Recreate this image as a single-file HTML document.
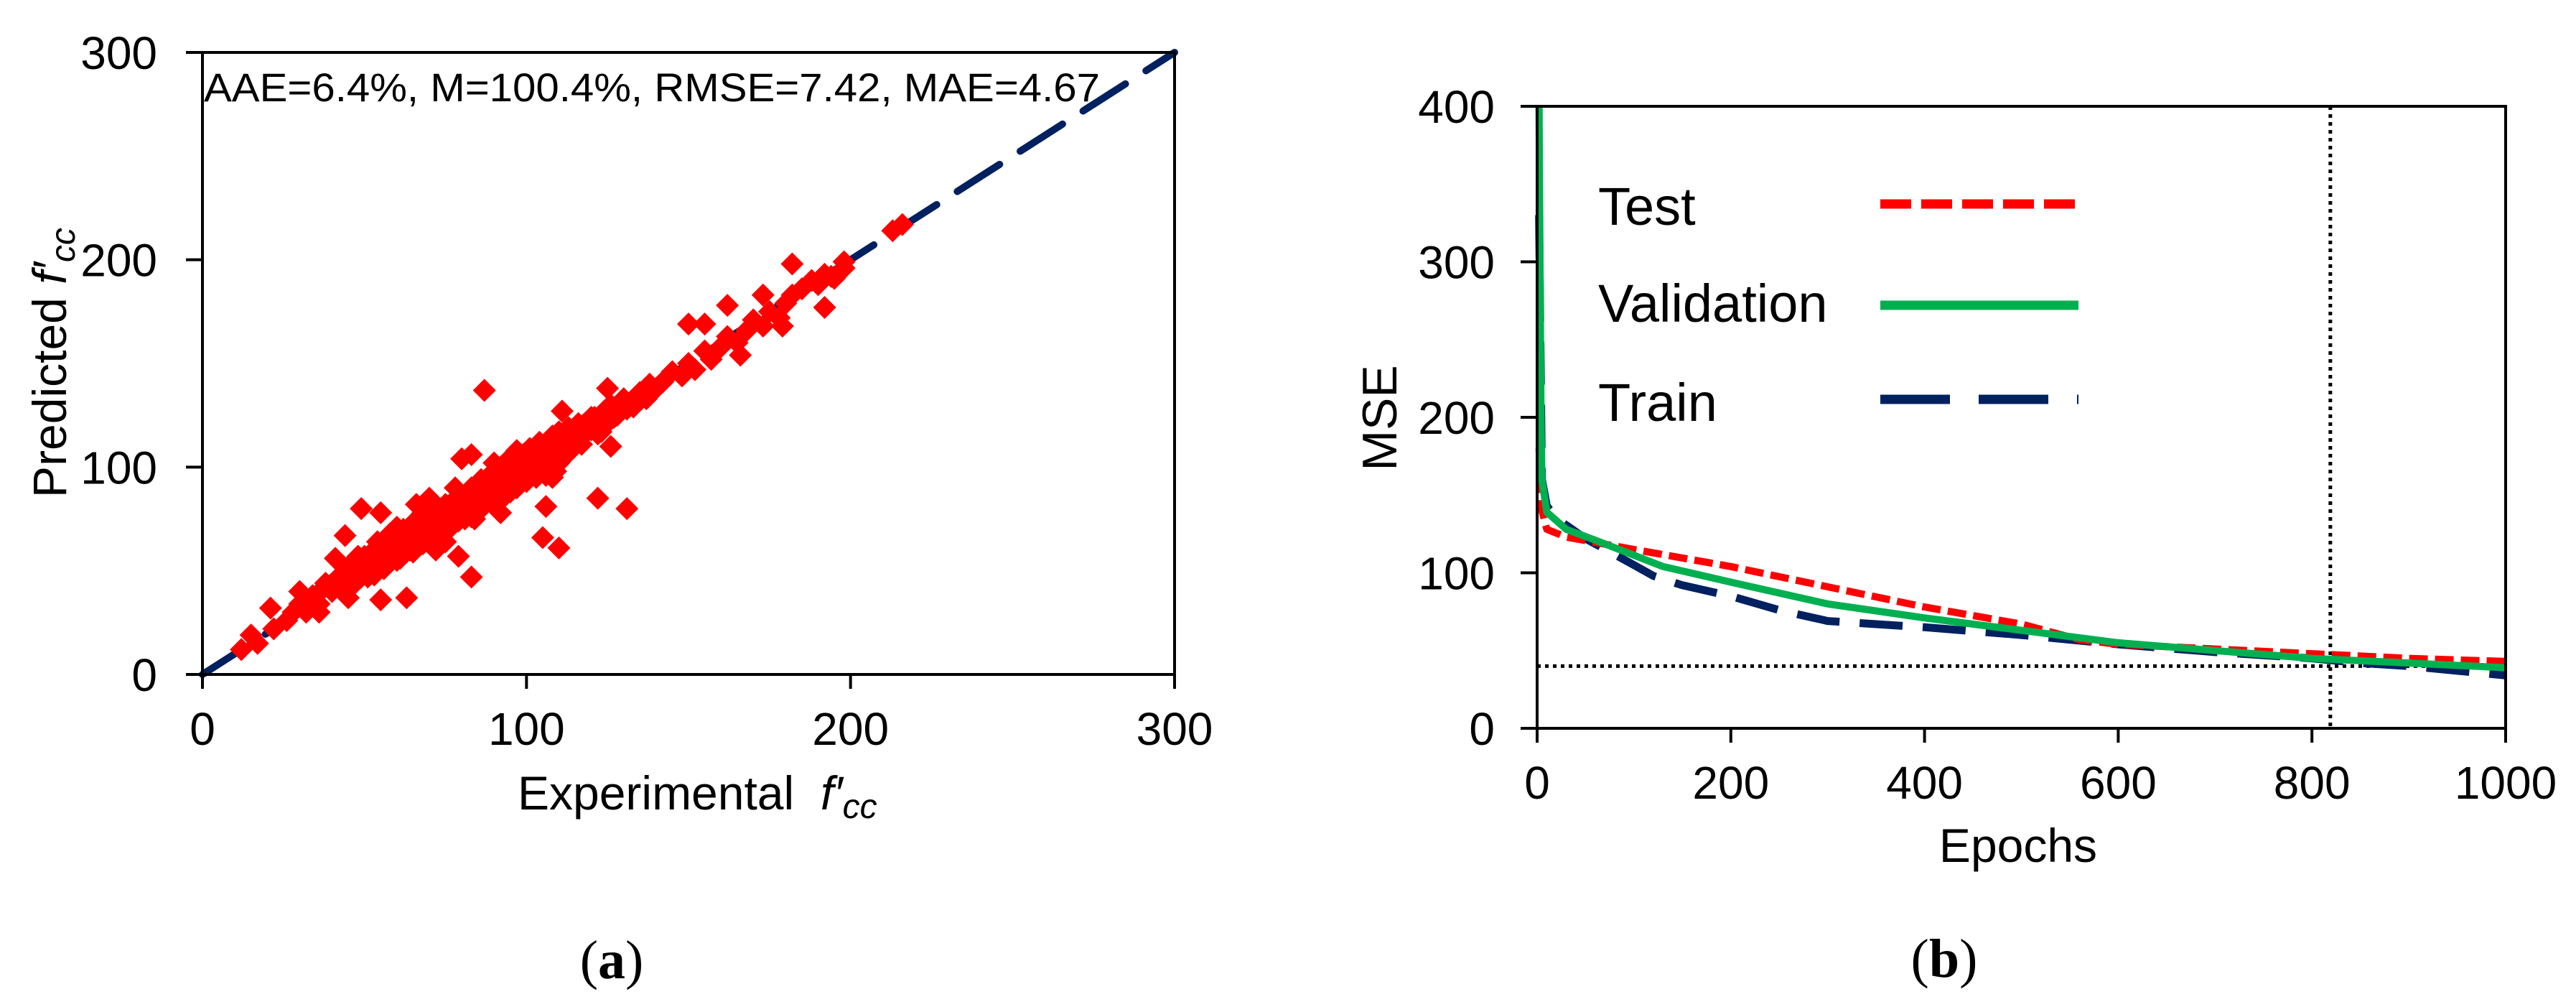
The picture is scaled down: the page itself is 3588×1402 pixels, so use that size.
<!DOCTYPE html>
<html><head><meta charset="utf-8"><style>
html,body{margin:0;padding:0;background:#fff;}
svg{display:block;font-family:"Liberation Sans",Arial,sans-serif;}
</style></head><body>
<svg id="c" width="3588" height="1402" viewBox="0 0 3588 1402" xmlns="http://www.w3.org/2000/svg"></svg>
<script>
// ---- Panel (a) data ----
const scatterExp = [12,15,17,21,22,26,28,30,32,34,36,37,38,40,41,42,44,45,46,47,48,49,50,51,52,53,54,55,55,56,57,58,59,60,61,62,63,63,64,65,66,67,68,69,70,71,72,73,74,75,76,77,78,79,80,81,82,83,83,84,85,86,87,87,88,89,90,91,92,92,93,94,95,96,97,98,99,100,101,102,103,104,105,106,106,107,108,109,110,110,111,112,113,115,117,118,120,121,122,124,125,126,128,130,131,133,135,137,138,140,142,145,148,150,152,155,157,160,162,165,168,170,173,175,178,180,182,185,188,190,192,195,198,49,55,55,63,83,79,105,110,131,122,106,126,125,162,173,182,198,166,179,150,155,92,44,41,30,36,45,80,83,111,120,138,194,87,192,213,216,58,68,75,88,95,100,102,97,84,72,66,48,53,60,90,108,116,86,78,70,
 43,47,50,52,54,57,59,61,62,64,65,67,69,70,72,74,75,77,79,80,82,84,85,86,88,89,90,91,93,94,95,96,98,99,100,101,103,104,105,107,108,109,111,112,114,116,119,123,127,129,132,
 45,48,51,53,56,58,60,62,65,66,68,71,73,76,78,81,83,85,87,89,91,93,95,97,99,100,102,104,106,108,110,113,118,122,126];
const scatterPred = [12,19,15,32,22,26,30,34,30,38,34,41,44,40,45,47,43,49,46,52,50,47,55,53,57,52,60,58,54,62,57,64,60,66,58,63,69,61,65,70,64,72,68,74,70,66,77,73,79,75,71,82,78,74,85,80,86,76,90,83,88,94,85,91,87,95,89,98,84,93,100,96,91,103,97,94,101,105,99,108,95,104,110,100,106,113,103,98,117,108,112,107,119,115,111,121,118,124,116,127,122,130,125,133,128,129,136,133,140,138,141,146,144,150,147,156,152,158,163,160,166,171,168,175,172,179,183,186,190,188,193,191,196,80,78,36,37,47,57,66,61,80,85,81,110,138,178,183,198,199,154,168,169,169,78,67,56,40,30,37,104,106,127,124,138,192,137,177,214,217,68,78,64,92,88,93,97,108,75,60,82,57,48,71,102,95,121,80,90,85,
 48,44,57,49,64,53,67,56,70,60,73,63,76,66,79,69,82,72,86,76,88,79,92,80,95,84,97,87,90,103,92,99,94,106,96,109,98,112,102,105,115,101,114,106,110,113,121,117,124,127,131,
 52,55,47,60,51,64,55,68,59,72,63,67,77,70,82,75,89,80,93,83,97,86,100,90,104,94,98,108,96,111,102,107,116,120,123];
const aTicks = [0,100,200,300];
const aLabels = ["0","100","200","300"];
// ---- Panel (b) data ----
const valEpoch = [2,3,4,5,10,30,60,130,200,300,400,500,600,700,800,900,1000];
const valMSE   = [400,300,200,160,139,128,121,104,94,80,71,63,55,50,45,42,39];
const testEpoch = [2,5,10,30,100,200,300,400,500,560,600,700,800,900,1000];
const testMSE   = [180,140,128,123,115,104,91,78,67,57,54,51,48,45,43];
const trainEpoch = [2,5,10,20,50,100,120,150,200,250,300,400,500,600,700,800,850,900,950,1000];
const trainMSE   = [330,160,143,135,122,105,98,92,85,76,69,65,60,54,49,45,42,40,37,34];
const bestMSE = [40];
const bestEpoch = [819];
const bXTicks = [0,200,400,600,800,1000];
const bYTicks = [0,100,200,300,400];

const NS="http://www.w3.org/2000/svg";
const svg=document.getElementById('c');
function mk(tag,attrs,parent){const e=document.createElementNS(NS,tag);for(const k in attrs)e.setAttribute(k,attrs[k]);(parent||svg).appendChild(e);return e;}
function txt(s,attrs,parent){const e=mk('text',attrs,parent);e.textContent=s;return e;}

// ===== Panel (a) =====
const ax0=282,ax1=1636,ay0=939,ay1=73;
const sxA=v=>ax0+(v/300)*(ax1-ax0);
const syA=v=>ay0-(v/300)*(ay0-ay1);
const gA=mk('g',{});


const diag=mk('line',{x1:sxA(0),y1:syA(0),x2:sxA(300),y2:syA(300),stroke:'#002060','stroke-width':10,'stroke-dasharray':'70 34','stroke-linecap':'round'},gA);


const gPts=mk('g',{fill:'#ff0000'},gA);


for(let i=0;i<scatterExp.length;i++){
  const x=sxA(scatterExp[i]),y=syA(scatterPred[i]),r=16;
  const p=mk('polygon',{points:`${x},${y-r} ${x+r},${y} ${x},${y+r} ${x-r},${y}`},gPts);
  
  
}
const frA=mk('rect',{x:ax0,y:ay1,width:ax1-ax0,height:ay0-ay1,fill:'none',stroke:'#000','stroke-width':4},gA);


aTicks.forEach((t,i)=>{
  mk('line',{x1:ax0-23,y1:syA(t),x2:ax0,y2:syA(t),stroke:'#000','stroke-width':4},gA);
  mk('line',{x1:sxA(t),y1:ay0,x2:sxA(t),y2:ay0+20,stroke:'#000','stroke-width':4},gA);
  const yl=txt(aLabels[i],{x:219,y:syA(t)+23,'text-anchor':'end','font-size':64},gA);
  
  
  const xl=txt(aLabels[i],{x:sxA(t),y:1037,'text-anchor':'middle','font-size':64},gA);
  
  
});
const ann=txt('AAE=6.4%, M=100.4%, RMSE=7.42, MAE=4.67',{x:284,y:141,'font-size':56,textLength:1248,lengthAdjust:'spacingAndGlyphs'},gA);


const xtA=mk('text',{x:721,y:1127,'font-size':66},gA);
xtA.innerHTML='Experimental&#160; <tspan font-style="italic">f′</tspan><tspan font-style="italic" font-size="48" dy="12">cc</tspan>';


const ytA=mk('text',{x:0,y:0,'font-size':66,transform:'translate(92,505) rotate(-90)','text-anchor':'middle'},gA);
ytA.innerHTML='Predicted <tspan font-style="italic">f′</tspan><tspan font-style="italic" font-size="48" dy="12">cc</tspan>';


const capA=mk('text',{x:852,y:1362,'font-size':76,'text-anchor':'middle','font-family':'Liberation Serif, serif'},gA);
capA.innerHTML='(<tspan font-weight="bold">a</tspan>)';



// ===== Panel (b) =====
const bx0=2141,bx1=3490,by0=1014,by1=148;
const sxB=v=>bx0+(v/1000)*(bx1-bx0);
const syB=v=>by0-(v/400)*(by0-by1);
const gB=mk('g',{});


function series(ex,ms,color,w,dash,name){
  const d=ex.map((e,i)=>(i?'L':'M')+sxB(e).toFixed(1)+','+syB(ms[i]).toFixed(1)).join(' ');
  const a={d:d,fill:'none',stroke:color,'stroke-width':w,'stroke-linejoin':'round'};
  if(dash)a['stroke-dasharray']=dash;
  const p=mk('path',a,gB);
  
  
}
const hl=mk('line',{x1:bx0,y1:syB(bestMSE[0]),x2:bx1,y2:syB(bestMSE[0]),stroke:'#000','stroke-width':5,'stroke-dasharray':'5 6'},gB);


const vl=mk('line',{x1:sxB(bestEpoch[0]),y1:by1,x2:sxB(bestEpoch[0]),y2:by0,stroke:'#000','stroke-width':5,'stroke-dasharray':'5 6'},gB);


series(trainEpoch,trainMSE,'#002060',11,'60 28','train-line');
series(testEpoch,testMSE,'#ff0000',10,'26 10','test-line');
series(valEpoch,valMSE,'#00b050',10,null,'validation-line');
const frB=mk('rect',{x:bx0,y:by1,width:bx1-bx0,height:by0-by1,fill:'none',stroke:'#000','stroke-width':4},gB);


bYTicks.forEach(t=>{
  mk('line',{x1:bx0-23,y1:syB(t),x2:bx0,y2:syB(t),stroke:'#000','stroke-width':4},gB);
  const l=txt(String(t),{x:2082,y:syB(t)+23,'text-anchor':'end','font-size':64},gB);
  
  
});
bXTicks.forEach(t=>{
  mk('line',{x1:sxB(t),y1:by0,x2:sxB(t),y2:by0+20,stroke:'#000','stroke-width':4},gB);
  const l=txt(String(t),{x:sxB(t),y:1112,'text-anchor':'middle','font-size':64},gB);
  
  
});
const lg=mk('g',{},gB);


[['Test',313,284,'#ff0000','43 14',13],['Validation',448,425,'#00b050',null,13],['Train',586,556,'#002060','97 40',13]].forEach(r=>{
  const t=txt(r[0],{x:2226,y:r[1],'font-size':74},lg);
  
  
  const a={x1:2619,y1:r[2],x2:2895,y2:r[2],stroke:r[3],'stroke-width':r[5]};
  if(r[4])a['stroke-dasharray']=r[4];
  const s=mk('line',a,lg);
  
  
});
const xtB=txt('Epochs',{x:2811,y:1200,'text-anchor':'middle','font-size':66},gB);


const ytB=txt('MSE',{x:0,y:0,'font-size':68,transform:'translate(1945,582) rotate(-90)','text-anchor':'middle'},gB);


const capB=mk('text',{x:2708,y:1360,'font-size':76,'text-anchor':'middle','font-family':'Liberation Serif, serif'},gB);
capB.innerHTML='(<tspan font-weight="bold">b</tspan>)';


</script>
</body></html>
